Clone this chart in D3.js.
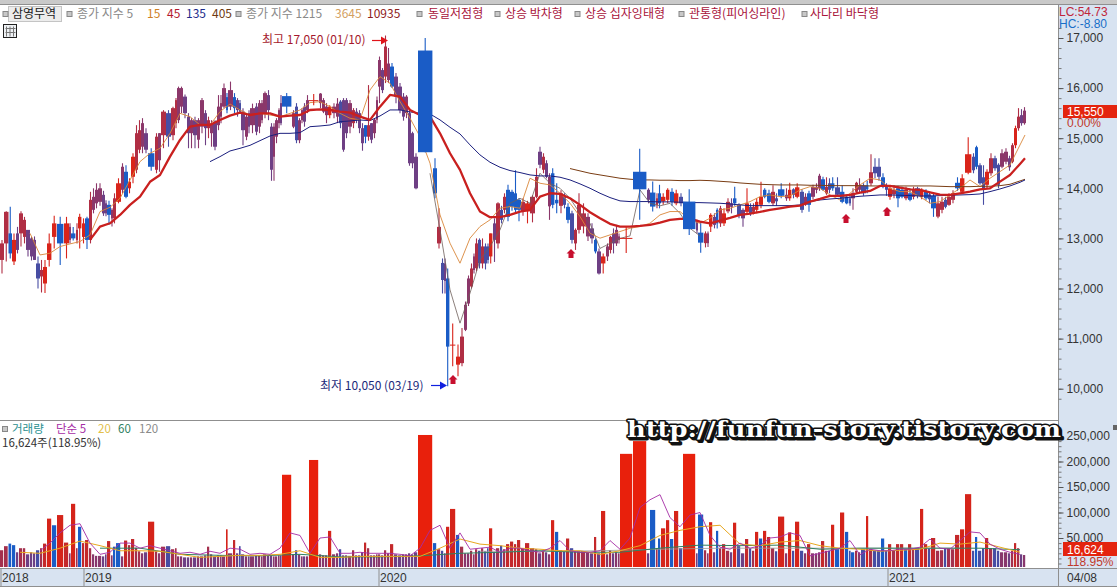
<!DOCTYPE html>
<html><head><meta charset="utf-8">
<script src="https://cdnjs.cloudflare.com/ajax/libs/d3/7.8.5/d3.min.js"></script>
<style>
html,body{margin:0;padding:0;background:#fff;overflow:hidden}
svg{display:block}
text{font-family:"Liberation Sans","Noto Sans CJK KR",sans-serif;font-size:12px}
.kr{font-family:"Noto Sans CJK KR","Liberation Sans",sans-serif;font-size:12px}
</style></head><body><svg id="c" width="1117" height="587"></svg>
<script>
// x domain of this equivolume chart: cumulative traded lots
const lots=[0,4,8.5,12,16,19,23,26,30,33,
36,40,43,47,52,57,64,69,71,76,
78,82,85,89,92,95,98,102,105,107,
111,113,116,121,124,128,131,135,138,141,
144,148,155,158,161,166,171,175,177,180,
183,187,190,193,197,200,204,207,210,213,
217,220,222,226,228,233,236,239,241,245,
248,250,255,258,261,263,267,270,273,275,
278,280,282,292,295,298,301,303,306,309,
319,322,325,328,332,336,339,342,345,348,
352,355,358,361,364,367,370,373,376,378,
381,384,387,390,394,398,402,405,408,411,
414,418,433,437,441,444,446,450,456,460,
464,467,470,473,475,478,481,484,487,489,
493,496,500,503,506,510,514,517,521,525,
530,535,538,542,545,548,551,555,559,563,
566,570,574,577,581,586,590,594,597,601,
606,609,612,615,618,620,633,647,650,656,
658,661,666,670,674,679,683,696,698,704,
707,709,713,716,719,722,726,730,733,737,
741,745,749,752,755,759,763,767,771,775,
778,785,788,792,795,800,804,807,811,815,
818,821,825,828,831,835,840,845,849,851,
855,858,861,866,869,873,877,881,885,888,
892,896,900,904,908,912,915,920,924,928,
931,936,940,944,947,951,955,960,965,972,
975,978,982,985,989,993,997,1000,1004,1008,
1011,1014,1017,1020,1023];
const lotsEnd=1026;
const opens=[12570,12900,13100,12540,13100,13100,13030,13170,13000,12970,
12500,12240,12100,12570,13030,13290,12900,12970,13100,12970,
13200,13030,13400,12970,13570,13700,13730,13870,13700,13670,
13400,13400,13730,13970,14330,14000,14230,14370,14770,14830,
15100,14700,14370,14560,15060,15500,15060,15300,15360,15630,
15830,15430,15100,15360,14970,15230,15500,15200,15100,15330,
15260,15430,15630,15820,15630,15820,15760,15700,15530,15030,
15500,15260,15630,15230,15360,15500,15860,15230,14630,15030,
15300,15700,15840,15230,15630,14960,15360,15630,15560,15750,
15700,15530,15460,15460,15500,15430,15730,15760,15760,15230,
15300,15530,15500,15200,15260,15030,15300,15100,15370,16030,
16360,16230,16160,16430,16230,16030,15830,15500,15500,15100,
14630,16750,14400,12900,12510,12500,12200,10870,10480,10510,
11175,11700,12040,12370,12405,12970,12500,12840,12840,12640,
13300,12900,13570,13570,13970,13930,13900,13770,13540,13540,
13500,13830,14730,14370,14500,13640,14300,13770,13650,13830,
13630,13500,12900,13170,13240,13040,13200,12970,12740,12500,
12640,12770,13100,12900,12970,13000,14330,13970,13915,13670,
13900,13740,13770,13930,13700,13830,13735,13330,13115,12905,
12905,13235,13430,13570,13300,13300,13540,13700,13800,13670,
13570,13530,13630,13530,13570,13670,13970,13900,13700,13800,
13980,13800,13800,13980,13830,13930,13670,13900,13830,13970,
14000,14180,13900,14100,14100,14020,13930,13830,13800,13800,
13930,13970,14060,14060,14100,14430,14430,14220,14060,13830,
13880,14000,13970,13800,13900,13830,14000,13830,13930,13880,
13850,13435,13570,13770,13670,13770,14110,13930,14310,14630,
14820,14460,14220,14070,14300,14600,14470,14430,14530,14600,
14530,14860,15200,15460,15300];
const closes=[12900,13530,12700,12970,12770,13500,13370,12770,12640,12570,
12200,12370,12430,12900,13300,12900,13300,13230,13000,13170,
13430,13300,12970,13770,13830,13970,14000,13500,13500,13470,
13570,13800,14100,14430,13830,14130,14630,15100,15160,15300,
14770,14430,15030,15100,15530,15030,15600,15760,16000,16000,
15500,15100,15360,15060,15360,15760,15200,15360,15300,14830,
15630,15700,16000,15560,15960,15600,15560,15530,15160,15430,
15230,15600,15130,15700,15700,15900,15560,14370,15230,15360,
15560,15300,15630,15500,14960,15360,15560,15330,15760,15760,
15890,15760,15630,15630,15630,15690,15300,14770,15100,15700,
15560,15360,15200,14900,15030,15260,14970,15370,15760,16560,
15960,16830,16490,16030,15830,15560,15430,15830,14500,14500,
14000,14720,13900,13230,12170,12150,10840,10880,10640,11040,
11675,12200,12400,12640,12900,12500,12840,12500,12570,13100,
12970,13700,13370,13830,13430,13630,13570,13570,13730,13700,
13830,14230,14470,14630,14230,14230,13670,13700,13900,13670,
13370,12970,13170,13670,13500,13430,13000,12740,12300,12640,
12840,13030,12900,13170,13040,13010,13980,13770,13635,13800,
13700,13830,13970,13730,13900,13700,13185,13160,12915,13100,
13100,13470,13270,13300,13600,13500,13730,13630,13700,13470,
13400,13700,13500,13630,13730,13830,13830,13730,13930,13740,
13850,13870,13970,13870,14020,13570,13830,13670,14030,14030,
14250,13970,14030,13970,14000,13870,13730,13700,13700,13900,
14110,14060,13900,13980,14320,14300,14230,14030,13970,14000,
13970,13800,13830,13970,13770,13970,13850,13970,13800,13780,
13600,13700,13730,13630,13830,13900,14000,14200,14680,14360,
14430,14100,13980,14330,14600,14400,14070,14700,14730,14420,
14860,15200,15430,15300,15550];
const highs=[12970,13540,13630,13100,13230,13540,13430,13170,13030,13040,
12640,12570,12570,13100,13450,13430,13430,13300,13230,13300,
13490,13400,13430,13930,14000,14100,14100,13950,13760,13750,
13600,13900,14200,14500,14460,14200,14700,15260,15360,15400,
15200,14800,15100,15100,15560,15560,15630,15800,16030,16030,
15870,15500,15400,15430,15400,15800,15560,15430,15360,15360,
15860,15860,16090,15900,16130,15900,15800,15760,15600,15500,
15560,15690,15700,15760,15760,15930,15960,15300,15300,15400,
15600,15860,15900,15560,15700,15400,15600,15700,15860,15880,
15900,15800,15700,15660,15700,15800,15760,15800,15800,15760,
15600,15600,15560,15300,15260,16060,15300,15400,15830,16630,
16400,17050,16800,16500,16300,16100,15900,15860,15560,15130,
14700,17000,14600,13600,12600,12600,12400,11300,10880,11210,
11740,12260,12500,12700,13000,13000,13000,12900,12900,13100,
13400,13720,13650,13900,14070,13970,14360,13800,13800,13750,
13860,14400,14830,14700,14560,14300,14400,14100,13960,13900,
13700,13550,13200,13900,13700,13500,13300,13000,12800,12700,
12900,13050,13200,13270,13100,13240,14790,14000,14135,13900,
14070,13900,14000,14000,13970,13900,13980,13370,13330,13140,
13140,13500,13500,13600,13650,13600,13800,13800,14030,13700,
13600,14000,13700,13700,13800,14130,14000,13970,14060,13900,
14100,14000,14110,14000,14100,13980,13900,13950,14070,14100,
14290,14230,14220,14200,14220,14220,14060,13870,13850,14000,
14130,14200,14100,14150,14680,14600,14600,14300,14100,14060,
14060,14050,14030,14030,14000,14030,14030,14000,13980,13930,
13900,13830,13830,13830,13900,13960,14220,14280,15020,14700,
14850,14500,14460,14380,14700,14650,14500,14780,14800,14650,
14900,15250,15600,15580,15620];
const lows=[12300,12540,12600,12470,12700,12840,12900,12640,12560,12570,
12000,11920,11910,12440,12800,12470,12600,12900,12960,12900,
12800,12900,12790,12900,13500,13600,13650,13450,13440,13270,
13240,13300,13700,13900,13800,13900,14100,14300,14700,14700,
14700,14350,14300,14330,14800,14830,14960,15200,15300,15500,
15400,14800,14800,14800,14800,15100,14860,15000,14830,14760,
15160,15300,15600,15500,15560,15500,15430,15500,14860,14960,
15100,15100,15060,15100,15300,15400,15360,14150,14150,14900,
15200,15260,15500,15200,14900,14900,15300,15230,15500,15660,
15600,15500,15300,15400,15400,15300,15200,14730,15000,15100,
15200,15300,15100,14750,14900,14950,14900,15000,15300,15700,
15900,16100,16100,16000,15700,15500,15350,15400,14450,14400,
13980,14720,13800,12800,11900,11900,10050,10450,10250,10450,
11150,11650,12000,12300,12350,12400,12400,12380,12500,12500,
12530,12800,13300,13500,13340,13550,13500,13340,13450,13300,
13320,13800,14400,14300,14200,13370,13600,13500,13500,13600,
13300,12900,12770,13100,13100,12950,12900,12700,12280,12300,
12550,12700,12700,12850,12900,12710,13370,13700,13535,13600,
13600,13670,13700,13650,13660,13640,13070,13100,12715,12820,
12830,13130,13200,13200,13230,13250,13500,13500,13650,13400,
13235,13500,13450,13480,13500,13600,13800,13700,13650,13650,
13800,13750,13750,13800,13800,13510,13650,13530,13780,13900,
13950,13950,13870,13900,13950,13830,13700,13680,13650,13570,
13900,13900,13850,13900,14050,14200,14150,14000,13850,13770,
13800,13620,13800,13760,13740,13780,13800,13780,13760,13700,
13430,13400,13500,13600,13650,13700,13950,13900,14280,14300,
14380,14070,13670,14000,14250,14350,14000,14400,14480,14350,
14500,14800,15150,15250,15270];
// volumes in thousand shares
const volumes=[26,34,39,36,22,30,30,18,22,20,
26,30,39,88,75,95,41,20,117,30,
72,40,46,30,18,15,15,14,18,44,
16,33,40,14,45,36,48,31,24,20,
22,82,24,20,33,34,28,30,14,14,
12,12,12,12,14,14,16,33,18,14,
16,16,14,67,20,46,20,34,18,14,
14,14,16,16,14,18,16,16,14,14,
16,16,174,18,26,18,14,14,14,203,
18,16,16,64,18,20,28,16,16,15,
26,16,16,22,41,30,16,16,18,18,
16,26,20,38,18,16,18,18,20,18,
22,252,40,28,25,20,72,107,56,33,
20,20,25,18,28,25,30,24,30,69,
22,30,35,28,38,43,38,46,30,40,
30,28,20,25,22,18,85,62,26,24,
49,30,24,24,24,22,20,52,20,103,
18,26,20,22,20,215,240,20,105,30,
49,69,85,48,103,30,215,20,96,26,
20,81,22,64,30,38,25,22,80,34,
20,48,30,25,62,49,64,52,30,24,
92,20,61,25,82,25,20,38,20,20,
22,44,25,25,76,28,100,62,25,22,
25,22,28,93,28,25,25,49,25,38,
25,38,38,28,38,28,30,107,38,30,
50,25,26,30,30,28,56,67,136,25,
52,25,30,50,30,30,25,22,22,20,
25,40,30,18,16.624];
// sessions (by lot) whose large volume bar is printed as a falling day
const fallingVolumeLots=[8.5,12,52,78,113,116,433,456,555,650,658,670,698,716,759,845,835,851,881,904,975];

// moving averages read every 10 lots from the given start
const ma5Start=430;
const ma5=[14300,13170,11973,11308,11907,12572,12838,13170,13700,13800,13700,14300,14100,14000,13800,13500,13300,12800,12900,13000,13050,13968,13700,13650,13700,13500,13200,13050];
const ma15Start=30;
const ma15=[13102,12670,12704,12837,12890,12937,13069,13535,13621,13801,14166,14532,14699,14798,15097,15496,15430,15264,15264,15530,15683,15563,15463,15496,15463,15430,15496,15563,15710,15729,15630,15496,15398,15365,15963,16229,16096,15730,15398,15032,14500,13469,12904,12505,13004,13237,13370,13602,13635,13602,14201,14101,14068,13901,13702,13436,13103,13004,13070,13137,13203,13237,13303,13469,13536,13536,13369,13302,13402,13568,13601,13668,13734,13834,13867,13834,13847,13967,14033,14000,13867,13767,13900,14067,14200,14166,14000,13934,13934,13834,13701,13734,13867,14000,14166,14033,14200,14333,14466,14865,15064];
const ma45Start=90;
const ma45=[12970,13235,13302,13468,13668,13834,14130,14266,14632,14965,15230,15264,15264,15363,15450,15510,15463,15496,15496,15430,15450,15463,15563,15576,15563,15530,15510,15430,15365,15630,15863,15830,15564,15464,15431,15098,14700,14367,13900,13536,13423,13423,13470,13536,13569,13835,13901,13888,13802,13669,13522,13403,13290,13237,13237,13250,13270,13316,13370,13390,13396,13335,13302,13355,13408,13468,13495,13528,13568,13601,13634,13654,13734,13787,13847,13847,13867,13914,13947,14047,14047,14014,13980,13967,13920,13874,13867,13900,13934,13980,14000,14133,14266,14486,14599];
const ma135Start=210;
const ma135=[14532,14632,14745,14798,14858,14951,15044,15097,15097,15111,15230,15244,15264,15330,15344,15363,15351,15444,15564,15564,15524,15497,15484,15365,15218,15085,14866,14666,14520,14420,14354,14314,14267,14247,14247,14221,14167,14088,14001,13901,13815,13749,13735,13735,13735,13729,13729,13722,13715,13714,13708,13701,13688,13668,13654,13654,13654,13654,13654,13668,13734,13767,13787,13801,13821,13841,13854,13867,13867,13861,13854,13847,13847,13854,13861,13867,13874,13887,13934,13987,14047,14120,14166];
const ma405Start=570;
const ma405=[14394,14347,14300,14267,14234,14201,14181,14167,14167,14161,14161,14154,14154,14160,14153,14140,14127,14107,14093,14080,14073,14067,14067,14067,14060,14060,14053,14053,14053,14053,14047,14047,14047,14047,14047,14047,14047,14040,14033,14033,14033,14040,14040,14053,14080,14147,14180];

const volMa5Start=40;
const volMa5=[25,40,60,75,78,40,18,22,40,40,30,35,30,25,20,22,18,24,20,30,28,18,20,18,30,60,55,20,50,52,20,20,22,20,20,20,18,15,30,65,75,30,60,28,30,32,22,30,30,25,22,30,45,25,22,22,25,45,28,50,110,125,135,90,72,95,100,55,32,28,40,30,35,50,52,60,55,15,20,25,30,45,17,28,25,25,28,28,32,48,30,28,45,62,60,38,28,22,18];
const volMa20Start=20;
const volMa20=[22,20,30,44,35,25,25,24,18,12,14,16,16,18,25,12,12,14,14,14,14,30,48,38,35,30,28,25,25,18,25,35,55,65,72,75,38,35,42,45,35,30,28,24,26,28,40,38,42,32,22];
const volMa60Start=100;
const volMa60=[30,30,18,16,15,18,13,13,15,20,22,25,22,22,30,36,35,36,28,30,30,30,30,27];
const volMa120Start=480;
const volMa120=[24,24,25,28,30,30,30,30,30];

const priceTicks=[17000,16000,15000,14000,13000,12000,11000,10000];
const volumeTicks=[250000,200000,150000,100000,50000];
const yearLabels=["2018","2019","2020","2021"];
const yearDates=["2018-10-01","2019-01-02","2020-01-02","2021-01-04"];
const signalLots=[453,571,846,887];
const signalPrices=[10273,12788,13487,13627];
const legendPrice=[
 {t:"종가 지수 5",c:"#8a8a8a",x:77},{t:"15",c:"#cf7f26",x:147},{t:"45",c:"#b3182e",x:167},{t:"135",c:"#1c2a8a",x:186},{t:"405",c:"#6e3a12",x:212},
 {t:"종가 지수 1215",c:"#8a8a8a",x:246},{t:"3645",c:"#d3a060",x:335},{t:"10935",c:"#8e2020",x:367},
 {t:"동일저점형",c:"#a8123a",x:428},{t:"상승 박차형",c:"#a8123a",x:505},{t:"상승 십자잉태형",c:"#a8123a",x:585},{t:"관통형(피어싱라인)",c:"#a8123a",x:689},{t:"사다리 바닥형",c:"#a8123a",x:810}];
const legendSquares=[3,67,236,417,495,575,679,802];
const legendVolume=[{t:"거래량",c:"#2b8f8f",x:12},{t:"단순 5",c:"#a52ca5",x:56},{t:"20",c:"#e3c04a",x:98},{t:"60",c:"#2f8060",x:118},{t:"120",c:"#8a8a8a",x:139}];

if(![opens,closes,highs,lows,volumes].every(a=>a.length===lots.length)) throw new Error("len "+[lots,opens,closes,highs,lows,volumes].map(a=>a.length));

const svg=d3.select("#c");
const PANEL="#d8e3f1",GRID="#8f8f8f";
const x=d3.scaleLinear().domain([0,1026]).range([0,1026]);
const yP=d3.scaleLinear().domain([10000,17000]).range([388.7,38]);
const yV=d3.scaleLinear().domain([0,250000]).range([563.5,436]);
const RED="#d9241a",BLUE="#1a5cc6",PURPLE="#7d3a78";
const edges=lots.concat(lotsEnd);
const candles=lots.map((l,i)=>{
  const up=closes[i]>=opens[i];
  const v=volumes[i]*1000;
  const t=v<=22000?0.85:v<=35000?0.45:0;
  const pitch=x(edges[i+1])-x(l);
  const gap=v>170000||v>60000?0.6:0;
  const left=x(l),w=Math.max(2,pitch-gap);
  const barW=Math.max(1.6,pitch-0.8);
  const falling=fallingVolumeLots.includes(l);
  const barColor=v>170000?"#e8200c":falling?BLUE:v>60000?"#d5241a":v>36000?"#c4282a":d3.interpolateRgb(up?"#c4282a":BLUE,PURPLE)(t||0.3);
  return {left,w,barW,up,v,o:opens[i],c:closes[i],h:highs[i],l:lows[i],color:d3.interpolateRgb(up?RED:BLUE,PURPLE)(t),barColor,big:v>170000};
});

// frame
svg.append("rect").attr("x",1058).attr("y",4).attr("width",59).attr("height",583).attr("fill",PANEL);
svg.append("rect").attr("x",0).attr("y",569).attr("width",1117).attr("height",18).attr("fill",PANEL);
svg.append("rect").attr("width",1117).attr("height",4).attr("fill","#c9c9c9");
svg.append("line").attr("x1",0).attr("x2",1117).attr("y1",4.5).attr("y2",4.5).attr("stroke",GRID);
svg.append("line").attr("x1",0).attr("x2",1058).attr("y1",420.5).attr("y2",420.5).attr("stroke",GRID);
svg.append("line").attr("x1",1058.5).attr("x2",1058.5).attr("y1",4).attr("y2",587).attr("stroke",GRID);
svg.append("line").attr("x1",0).attr("x2",1117).attr("y1",568.5).attr("y2",568.5).attr("stroke",GRID);
svg.append("line").attr("x1",0).attr("x2",1117).attr("y1",586.5).attr("y2",586.5).attr("stroke",GRID);

const defs=svg.append("defs");
defs.append("clipPath").attr("id","cp").append("rect").attr("x",0).attr("y",5).attr("width",1058).attr("height",415);
defs.append("clipPath").attr("id","cv").append("rect").attr("x",0).attr("y",421).attr("width",1058).attr("height",146);

// price pane
const pane=svg.append("g").attr("clip-path","url(#cp)");
function drawCandles(g,data){
  const s=g.selectAll("g.k").data(data).join("g").attr("class","k");
  s.append("line").attr("x1",d=>d.left+d.w/2).attr("x2",d=>d.left+d.w/2).attr("y1",d=>yP(d.h)).attr("y2",d=>yP(d.l)).attr("stroke",d=>d.color).attr("stroke-width",1.1);
  s.append("rect").attr("x",d=>d.left).attr("width",d=>d.w)
   .attr("y",d=>yP(Math.max(d.o,d.c))).attr("height",d=>Math.max(1,Math.abs(yP(d.o)-yP(d.c)))).attr("fill",d=>d.color);
}
drawCandles(pane.append("g"),candles.filter(d=>!d.big));
const drawLine=(g,vals,start,color,w,yS,k,step)=>g.append("path").datum(vals).attr("fill","none").attr("stroke",color).attr("stroke-width",w).attr("stroke-linejoin","round")
   .attr("d",d3.line().x((d,i)=>x(Math.min(start+i*(step||10),1025))).y(d=>yS(d*(k||1))));
drawLine(pane,ma5,ma5Start,"#6f5f5a",0.8,yP);
drawLine(pane,ma15,ma15Start,"#d9873a",0.9,yP);
drawLine(pane,ma405,ma405Start,"#7a3d14",1,yP);
drawLine(pane,ma135,ma135Start,"#1b1f7e",1,yP);
drawLine(pane,ma45,ma45Start,"#c9201f",2.3,yP);
drawCandles(pane.append("g"),candles.filter(d=>d.big));

// signals
const arrowUp="M0,0L4.5,4.5L2.5,4.5L2.5,9L-2.5,9L-2.5,4.5L-4.5,4.5Z";
pane.selectAll("path.sig").data(signalLots).join("path").attr("class","sig").attr("d",arrowUp).attr("fill","#c70f2e")
  .attr("transform",(d,i)=>`translate(${x(d)},${yP(signalPrices[i])})`);

// annotations
svg.append("text").attr("class","kr").attr("x",262).attr("y",yP(17000)+6).attr("fill","#a5182c").text("최고 17,050 (01/10)");
svg.append("path").attr("d","M372,40.5H382").attr("stroke","#e0141a").attr("stroke-width",1.2);
svg.append("path").attr("d","M388,40.5L381,36.5V44.5Z").attr("fill","#e0141a");
svg.append("text").attr("class","kr").attr("x",320).attr("y",yP(10000)+1).attr("fill","#1c2a7a").text("최저 10,050 (03/19)");
svg.append("path").attr("d","M431,385.5H441").attr("stroke","#1020e0").attr("stroke-width",1.2);
svg.append("path").attr("d","M447,385.5L440,381.5V389.5Z").attr("fill","#1020e0");

// volume pane
const vp=svg.append("g").attr("clip-path","url(#cv)");
vp.selectAll("rect").data(candles).join("rect")
  .attr("x",d=>d.left).attr("width",d=>d.barW).attr("y",d=>yV(d.v)).attr("height",d=>567-yV(d.v))
  .attr("fill",d=>d.barColor);
drawLine(vp,volMa120,volMa120Start,"#9a9a9a",0.8,yV,1000,60);
drawLine(vp,volMa60,volMa60Start,"#2f8060",1,yV,1000,40);
drawLine(vp,volMa20,volMa20Start,"#e8a820",1,yV,1000,20);
drawLine(vp,volMa5,volMa5Start,"#a52ca5",0.9,yV,1000);

// right axes
function rightAxis(scale,major,minor){
  const gm=svg.append("g").attr("transform","translate(1058.5,0)").call(d3.axisRight(scale).tickValues(minor).tickSize(3).tickFormat(""));
  gm.select(".domain").remove(); gm.selectAll("line").attr("stroke","#777");
  const g=svg.append("g").attr("transform","translate(1058.5,0)").call(d3.axisRight(scale).tickValues(major).tickSize(5).tickPadding(3).tickFormat(d3.format(",")));
  g.select(".domain").remove(); g.selectAll("line").attr("stroke","#555");
  g.selectAll("text").attr("fill","#333").style("font-size","12px");
}
rightAxis(yP,priceTicks,d3.range(9800,17400,200));
rightAxis(yV,volumeTicks,d3.range(0,260000,10000));

// right-hand readouts
const box=(y,h,t)=>{svg.append("rect").attr("x",1063).attr("y",y).attr("width",54).attr("height",h).attr("fill","#e4240e");
 svg.append("text").attr("x",1067).attr("y",y+h-2.5).attr("fill","#fff").text(t);};
box(105,13,"15,550");
svg.append("text").attr("x",1067).attr("y",127).attr("fill","#c0392b").text("0.00%");
box(542,14,"16,624");
svg.append("text").attr("x",1067).attr("y",566).attr("fill","#c0392b").text("118.95%");
svg.append("text").attr("x",1059).attr("y",16).attr("fill","#c0263a").text("LC:54.73");
svg.append("text").attr("x",1059).attr("y",28).attr("fill","#1a6fc8").text("HC:-8.80");
svg.append("rect").attr("x",1113).attr("y",425).attr("width",4).attr("height",5).attr("fill","#666");

// time axis
const parse=d3.timeParse("%Y-%m-%d");
const xT=d3.scaleTime().domain(["2018-10-01","2019-01-02","2020-01-02","2021-01-04","2021-04-08"].map(parse)).range([0,83,378,887,1058]);
const ta=svg.append("g").attr("transform","translate(0.5,569)").call(d3.axisBottom(xT).tickValues(yearDates.map(parse)).tickSize(17).tickFormat((d,i)=>yearLabels[i]));
ta.select(".domain").remove();
ta.selectAll("line").attr("stroke",GRID);
ta.selectAll("text").attr("text-anchor","start").attr("dy",0).attr("x",1).attr("y",13).attr("fill","#333").style("font-size","12px");
svg.append("text").attr("x",1067).attr("y",582).attr("fill","#333").text("04/08");

// header
svg.append("rect").attr("x",8.5).attr("y",6.5).attr("width",53).attr("height",15).attr("fill","#ececec").attr("stroke","#c4c4c4");
svg.append("text").attr("class","kr").attr("x",12).attr("y",18).attr("fill","#222").text("삼영무역");
svg.selectAll("text.lg").data(legendPrice).join("text").attr("class","kr lg").attr("x",d=>d.x).attr("y",18).attr("fill",d=>d.c).text(d=>d.t);
svg.selectAll("rect.sq").data(legendSquares).join("rect").attr("class","sq").attr("x",d=>d).attr("y",11.5).attr("width",5).attr("height",5).attr("fill","#c8c8c8").attr("stroke","#888");
// grid icon
const ic=svg.append("g").attr("transform","translate(3.5,24.5)");
ic.append("rect").attr("width",13).attr("height",13).attr("fill","#eef1f4").attr("stroke","#222");
[3,6.5,10].forEach(p=>{ic.append("line").attr("x1",p).attr("x2",p).attr("y1",2).attr("y2",12).attr("stroke","#777");});
[4,8].forEach(p=>{ic.append("line").attr("x1",2).attr("x2",12).attr("y1",p).attr("y2",p).attr("stroke","#777");});

// volume legend
svg.append("rect").attr("x",2.5).attr("y",426.5).attr("width",5).attr("height",5).attr("fill","#c8c8c8").attr("stroke","#888");
svg.selectAll("text.lv").data(legendVolume).join("text").attr("class","kr lv").attr("x",d=>d.x).attr("y",433).style("font-size","11.5px").attr("fill",d=>d.c).text(d=>d.t);
svg.append("text").attr("class","kr").attr("x",2).attr("y",447).style("font-size","11.5px").attr("fill","#333").text("16,624주(118.95%)");

// watermark
const mark="http://funfun-story.tistory.com";
const wmFont="'DejaVu Serif',serif";
[[629,439,"#111",3],[627,437,"#fff",3]].forEach(([tx,ty,fill,sw])=>{
  svg.append("text").attr("x",tx).attr("y",ty).attr("textLength",434).attr("lengthAdjust","spacingAndGlyphs")
    .style("font-family",wmFont).style("font-weight","700").style("font-size","23px")
    .attr("fill",fill).attr("stroke","#111").attr("stroke-width",sw).attr("paint-order","stroke").attr("stroke-linejoin","round").text(mark);
});
</script></body></html>
